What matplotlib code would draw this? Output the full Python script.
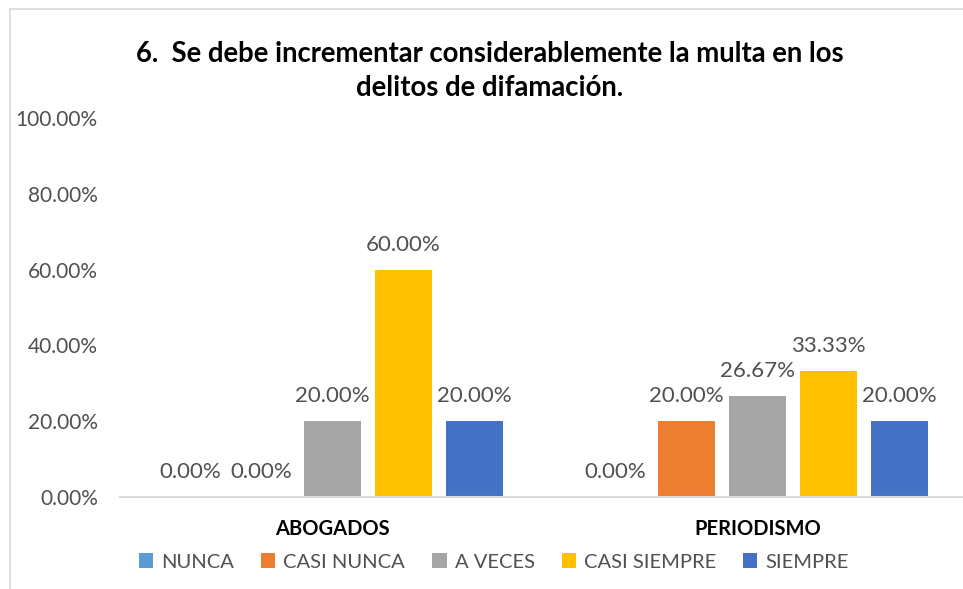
import numpy as np
import matplotlib.pyplot as plt
from matplotlib.patches import Rectangle

plt.rcParams['font.family'] = ['Lato', 'DejaVu Sans']

# datos
grupos = ['ABOGADOS', 'PERIODISMO']
respuestas = ['NUNCA', 'CASI NUNCA', 'A VECES', 'CASI SIEMPRE', 'SIEMPRE']
abogados = [0.0, 0.0, 20.0, 60.0, 20.0]
periodismo = [0.0, 20.0, 26.67, 33.33, 20.0]
colores = ['#5B9BD5', '#ED7D31', '#A5A5A5', '#FFC000', '#4472C4']
yticks = [0, 20, 40, 60, 80, 100]

valores = np.array([abogados, periodismo])

fig = plt.figure(figsize=(9.63, 5.89), dpi=100)
W, H = 963, 589

# marco del grafico
fig.patches.append(Rectangle((10 / W, -0.1), 1.1, 1.1 - 8.5 / H,
                             transform=fig.transFigure, fill=False,
                             edgecolor='#D9D9D9', linewidth=1.2))

ax = fig.add_axes([120 / W, (H - 497) / H, 850 / W, 379 / H])

x = np.arange(len(grupos))
paso = 71 / 425
ancho = 57 / 425
for i, resp in enumerate(respuestas):
    pos = x + (i - 2) * paso
    ax.bar(pos, valores[:, i], width=ancho, color=colores[i], label=resp)
    for xx, v in zip(pos, valores[:, i]):
        ax.annotate(f'{v:.2f}%', (xx, v), xytext=(0, 18), textcoords='offset points',
                    ha='center', va='center', fontsize=16, color='#505050')

ax.set_xlim(-0.5, 1.5)
ax.set_ylim(0, 100)
ax.set_yticks(yticks)
ax.set_yticklabels([f'{t:.2f}%' for t in yticks])
ax.set_xticks(x)
ax.set_xticklabels(grupos, fontweight='bold', fontsize=14.5, color='black')
ax.tick_params(axis='y', length=0, pad=16, labelsize=15, labelcolor='#505050')
ax.tick_params(axis='x', length=0, pad=16)
for s in ['top', 'right', 'left']:
    ax.spines[s].set_visible(False)
ax.spines['bottom'].set_color('#D9D9D9')
ax.spines['bottom'].set_linewidth(1.5)

fig.text(490 / W, 1 - 71 / H,
         '6.  Se debe incrementar considerablemente la multa en los\ndelitos de difamación.',
         ha='center', va='center', fontsize=19.8, fontweight='bold', linespacing=1.42)

fig.legend(loc='center', bbox_to_anchor=(494 / W, 1 - 562 / H), ncol=5, frameon=False,
           handlelength=0.7, handleheight=0.7, handletextpad=0.4, columnspacing=1.35,
           prop={'size': 14.5}, labelcolor='#505050')

fig.savefig('out.png', dpi=100)
